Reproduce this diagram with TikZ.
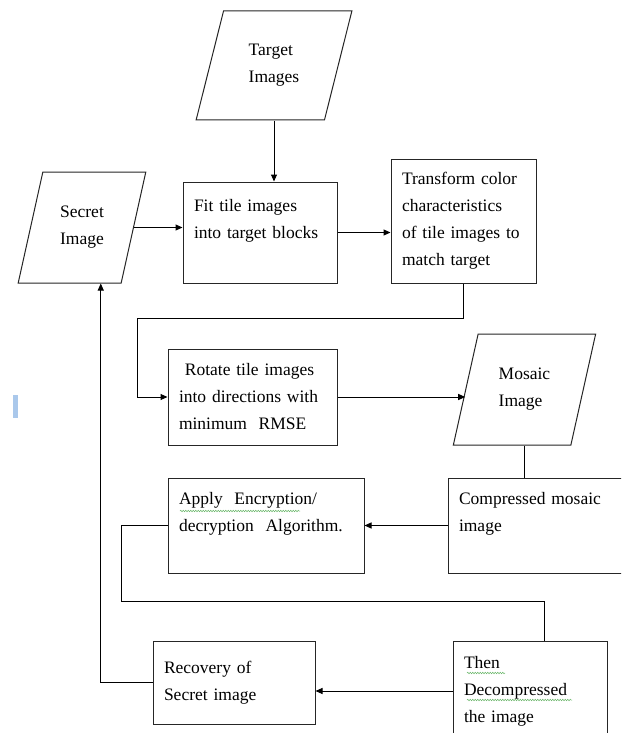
\documentclass[tikz,border=0pt]{standalone}
\usepackage{fontspec}
\setmainfont{Liberation Serif}
\usetikzlibrary{shapes.geometric,arrows.meta,calc,decorations.pathmorphing}
\definecolor{cursorblue}{RGB}{170,200,235}
\definecolor{spellgreen}{RGB}{110,185,110}

\begin{document}
\begin{tikzpicture}
	[x=1pt,y=-1pt,line width=1pt,
	every node/.style={draw=black!85,inner sep=0pt,font=\fontsize{17.5}{27}\selectfont},
	box/.style={rectangle,align=left,inner xsep=11pt},
	io/.style={trapezium,trapezium left angle=72,trapezium right angle=108,trapezium stretches=true,align=left},
	arr/.style={-{Triangle[length=7pt,width=6pt]}},
	squiggle/.style={spellgreen,line width=0.5pt,decorate,decoration={snake,amplitude=0.8pt,segment length=2.5pt}}]
	\useasboundingbox (0,0) rectangle (621,733);
	\clip (0,0) rectangle (621,733);
	\fill[white] (0,0) rectangle (621,733);
	
	\node[io,minimum width=156,minimum height=109] (target) at (274,65.5) {Target\\Images};
	\node[io,minimum width=128,minimum height=111] (secret) at (82,227.5) {Secret\\Image};
	\node[box,minimum width=154,minimum height=101,text width=132] (fit) at (260,232.5) {Fit tile images\\into target blocks\\\mbox{}};
	\node[box,minimum width=145,minimum height=124,text width=123] (transform) at (463.5,221) {Transform color\\characteristics\\\mbox{of tile images to}\\match target};
	\node[box,minimum width=169,minimum height=96,text width=147] (rotate) at (252.5,397) {\ Rotate tile images\\into directions with\\minimum\ \ RMSE};
	\node[io,minimum width=143,minimum height=111] (mosaic) at (524.5,389.5) {Mosaic\\Image};
	\node[box,minimum width=187,minimum height=95,text width=165] (compressed) at (541.5,525.5) {Compressed mosaic\\image\\\mbox{}};
	\node[box,minimum width=196,minimum height=95,text width=174] (apply) at (266,525.5) {Apply\ \ Encryption/\\decryption\ \ Algorithm.\\\mbox{}};
	\node[box,minimum width=154,minimum height=100,text width=132] (then) at (530,691) {Then\\Decompressed\\the image};
	\node[box,minimum width=162,minimum height=83,text width=140] (recovery) at (234,682.5) {Recovery of\\Secret image};
	
	\draw[arr] (target.south) -- (target.south |- fit.north);
	\foreach \from/\to in {secret.east/fit.west,fit.east/transform.west,rotate.east/mosaic.west,compressed.west/apply.east,then.west/recovery.east}
	\draw[arr] (\from) -- (\from -| \to);
	\draw[arr] (transform.south) -- ++(0,35) -| ($(rotate.west)+(-30,0)$) -- (rotate.west);
	\draw (mosaic.south) -- (mosaic.south |- compressed.north);
	\draw (apply.west) -- ++(-46,0) |- ($(then.north)+(14,-39)$) -- ($(then.north)+(14,0)$);
	\draw[arr] (recovery.west) -| ($(secret.bottom left corner)!0.8!(secret.bottom right corner)$);
	
	% spell check marks and cursor
	\draw[squiggle] (180,511) -- (300,511);
	\draw[squiggle] (467,673) -- (505,673);
	\draw[squiggle] (467,700) -- (572,700);
	\fill[cursorblue] (13,395) rectangle (18,418);
\end{tikzpicture}
\end{document}
